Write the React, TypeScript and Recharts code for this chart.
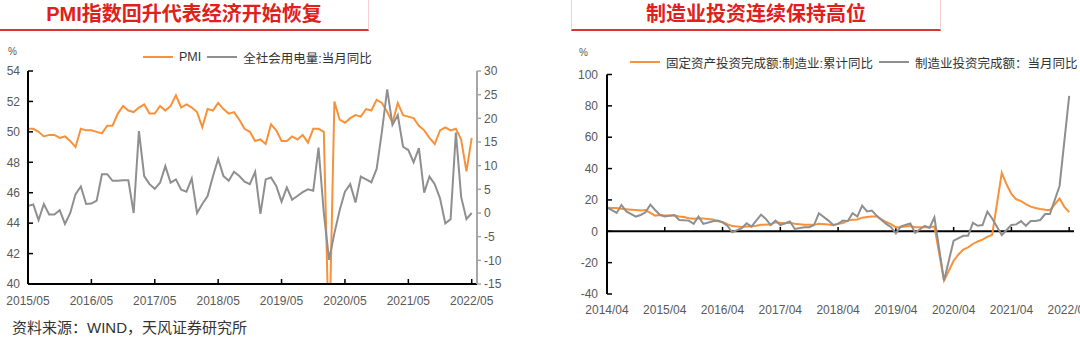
import React from 'react';
import { LineChart, Line, XAxis, YAxis, Legend, ReferenceLine } from 'recharts';

const FONT = '"Liberation Sans", "Noto Sans CJK SC", sans-serif';
const ORANGE = '#F7923A';
const GREY = '#8F8F8F';
const RED = '#E0201B';
const LABEL = '#595959';

// ---- left chart: PMI vs power consumption, monthly 2015/05 .. 2022/05
const leftTickLabels = ['2015/05', '2016/05', '2017/05', '2018/05', '2019/05', '2020/05', '2021/05', '2022/05'];
const pmi = [
  50.2, 50.2, 50.0, 49.7, 49.8, 49.8, 49.6, 49.7,
  49.4, 49.0, 50.2, 50.1, 50.1, 50.0, 49.9, 50.4, 50.4, 51.2, 51.7, 51.4,
  51.3, 51.6, 51.8, 51.2, 51.2, 51.7, 51.4, 51.7, 52.4, 51.6, 51.8, 51.6,
  51.3, 50.3, 51.5, 51.4, 51.9, 51.5, 51.2, 51.3, 50.8, 50.2, 50.0, 49.4,
  49.5, 49.2, 50.5, 50.1, 49.4, 49.4, 49.7, 49.5, 49.8, 49.3, 50.2, 50.2,
  50.0, 35.7, 52.0, 50.8, 50.6, 50.9, 51.1, 51.0, 51.5, 51.4, 52.1, 51.9,
  51.3, 50.6, 51.9, 51.1, 51.0, 50.9, 50.4, 50.1, 49.6, 49.2, 50.1, 50.3,
  50.1, 50.2, 49.5, 47.4, 49.6,
];
const power = [
  1.5, 1.8, -1.5, 1.9, -0.3, -0.3, 0.6, -2.3,
  0, 4.0, 5.6, 1.9, 2.0, 2.6, 8.2, 8.2, 6.8, 6.8, 6.9, 6.9,
  0, 17.3, 7.8, 6.1, 5.1, 6.4, 9.9, 6.4, 7.1, 4.9, 4.5, 7.3,
  0, 1.9, 3.6, 7.7, 11.4, 7.8, 6.8, 8.7, 7.8, 6.6, 6.1, 8.7,
  -0.2, 7.1, 7.5, 5.7, 2.4, 5.4, 2.8, 3.6, 4.4, 5.0, 4.7, 13.8,
  0, -9.9, -4.3, 0.6, 4.5, 6.1, 2.2, 7.7, 7.1, 6.5, 9.3, 17.2,
  26.1, 18.6, 20.7, 14.0, 13.3, 10.7, 13.7, 4.3, 7.7, 6.1, 3.1, -2.2,
  -1.3, 17.0, 3.4, -1.3, 0.0,
];
const leftTicks = leftTickLabels.map((_, k) => k * 12);
const pmiTicks = [40, 42, 44, 46, 48, 50, 52, 54];
const powerTicks = [-15, -10, -5, 0, 5, 10, 15, 20, 25, 30];

// ---- right chart: manufacturing FAI, monthly 2014/04 .. 2022/04 (null = no January print)
const rightTickLabels = ['2014/04', '2015/04', '2016/04', '2017/04', '2018/04', '2019/04', '2020/04', '2021/04', '2022/04'];
const mfgCum = [
  15.0, 14.9, 14.8, 14.3, 14.1, 13.8, 13.5, 13.2, 13.5,
  null, 10.0, 10.4, 10.1, 10.0, 10.1, 9.5, 9.1, 8.3, 8.0, 8.1, 8.1,
  null, 7.5, 6.4, 6.0, 4.6, 3.3, 3.1, 2.8, 3.1, 3.1, 3.6, 4.2,
  null, 4.3, 5.8, 5.4, 5.1, 5.5, 4.8, 4.5, 4.2, 4.1, 4.1, 4.8,
  null, 4.3, 3.8, 4.8, 5.2, 6.8, 7.3, 7.5, 8.7, 9.1, 9.5, 9.5,
  null, 5.9, 4.6, 2.5, 2.7, 3.0, 3.3, 2.6, 2.5, 2.6, 2.5, 3.1,
  null, -31.5, -25.2, -18.8, -14.8, -11.7, -10.2, -8.1, -6.5, -5.3, -3.5, -2.2,
  null, 37.3, 29.8, 23.8, 20.4, 19.2, 17.3, 15.7, 14.8, 14.2, 13.7, 13.5,
  null, 20.9, 15.6, 12.2,
];
const mfgMonth = [
  15.3, null, 11.7, 16.8, 12.7, null, 9.4, 10.4, 12.1,
  17.0, 13.6, 10.4, 9.4, null, 10.4, 7.2, null, 6.8, 4.7, 9.4, 4.7,
  null, 6.4, 6.8, 5.7, 3.6, -0.6, null, 2.0, 5.1, 3.0, null, 10.6,
  7.9, 4.0, 6.8, 4.0, null, 6.2, 1.5, null, 2.6, 2.6, 4.0, 11.5,
  null, 6.8, 4.0, 4.7, 6.8, 6.4, 11.5, 9.4, 16.4, 12.7, 13.2, 10.0,
  7.2, 4.7, 2.6, -1.3, 3.0, 4.0, 5.0, -1.0, null, 3.5, 2.2, 8.9,
  null, -31.5, null, -6.0, null, -2.9, -2.9, 5.4, 3.5, 4.0, 12.5, 8.2,
  null, -2.4, null, 4.0, 4.4, 6.5, 3.5, 6.5, 6.5, 7.2, 11.0, 11.0,
  null, 28.9, null, 86.3,
];
const rightTicks = rightTickLabels.map((_, k) => k * 12);
const fixedTicks = [-40, -20, 0, 20, 40, 60, 80, 100];

const leftData = pmi.map((v, i) => ({ i, pmi: v, power: power[i] }));
const rightData = mfgCum.map((v, i) => ({ i, cum: v, month: mfgMonth[i] }));

const tickStyle = { fill: LABEL, fontSize: 12, fontFamily: FONT };

// keep legend entries in series order (recharts sorts by name otherwise)
const seriesOrder = (item: any) => (item.dataKey === 'pmi' || item.dataKey === 'cum' ? 0 : 1);

const LineLegend = (props: any) => (
  <div style={{ display: 'flex', alignItems: 'center', height: 18, fontFamily: FONT, fontSize: 12.5, color: '#333', whiteSpace: 'nowrap' }}>
    {(props.payload || []).map((p: any, k: number) => (
      <span key={k} style={{ display: 'flex', alignItems: 'center', marginLeft: k ? 6 : 0 }}>
        <span style={{ display: 'inline-block', width: 30, height: 2, background: p.color, marginRight: 6 }} />
        {p.value}
      </span>
    ))}
  </div>
);

const TitleBox = ({ left, text, size }: { left: number; text: string; size: number }) => (
  <div style={{
    position: 'absolute', left, top: 0, width: 368, height: 29,
    borderLeft: '1px solid #F3CFCF', borderRight: '1px solid #F3CFCF', borderBottom: `2.5px solid #D9363A`,
    textAlign: 'center', lineHeight: '29px', fontFamily: FONT, fontWeight: 'bold', fontSize: size, color: RED,
  }}>{text}</div>
);

const PMIChart = () => (
  <LineChart width={540} height={344} data={leftData} margin={{ top: 71, right: 33, bottom: 40, left: 0 }}>
    <XAxis type="number" dataKey="i" domain={[0, 85]} ticks={leftTicks} interval={0} height={20}
      tickFormatter={(v: number) => leftTickLabels[v / 12]}
      axisLine={{ stroke: '#000', strokeWidth: 2 }} tickLine={{ stroke: '#000', strokeWidth: 1.5 }}
      tickSize={-5} tickMargin={17} tick={tickStyle} />
    <YAxis yAxisId="l" domain={[40, 54]} ticks={pmiTicks} allowDataOverflow width={28} interval={0}
      axisLine={{ stroke: '#000', strokeWidth: 2 }} tickLine={{ stroke: '#000', strokeWidth: 1.5 }}
      tickSize={-5} tickMargin={13} tick={tickStyle} />
    <YAxis yAxisId="r" orientation="right" domain={[-15, 30]} ticks={powerTicks} width={30} interval={0}
      axisLine={{ stroke: '#A6A6A6', strokeWidth: 2 }} tickLine={{ stroke: '#A6A6A6', strokeWidth: 1.5 }}
      tickSize={4} tickMargin={3} tick={tickStyle} />
    <Legend verticalAlign="middle" align="center" content={<LineLegend />} itemSorter={seriesOrder}
      wrapperStyle={{ left: 143, top: 48, width: 'auto' }} />
    <Line yAxisId="l" type="linear" dataKey="pmi" name="PMI" stroke={ORANGE} strokeWidth={2} dot={false} isAnimationActive={false} />
    <Line yAxisId="r" type="linear" dataKey="power" name="全社会用电量:当月同比" stroke={GREY} strokeWidth={2} dot={false} isAnimationActive={false} />
  </LineChart>
);

const FAIChart = () => (
  <LineChart width={540} height={344} data={rightData} margin={{ top: 74.5, right: 6, bottom: 30, left: 0 }}>
    <XAxis type="number" dataKey="i" domain={[0, 97]} ticks={rightTicks} interval={0} height={20}
      tickFormatter={(v: number) => rightTickLabels[v / 12]}
      axisLine={false} tickLine={false} tickMargin={5} tick={tickStyle} />
    <YAxis domain={[-40, 100]} ticks={fixedTicks} width={67} interval={0}
      axisLine={{ stroke: '#000', strokeWidth: 2 }} tickLine={{ stroke: '#000', strokeWidth: 1.5 }}
      tickSize={-5} tickMargin={14} tick={tickStyle} />
    <ReferenceLine y={0} stroke="#000" strokeWidth={2} />
    {rightTicks.map((t) => (
      <ReferenceLine key={t} segment={[{ x: t, y: 0 }, { x: t, y: 2.8 }]} stroke="#000" strokeWidth={1.5} />
    ))}
    <Legend verticalAlign="middle" align="center" content={<LineLegend />} itemSorter={seriesOrder}
      wrapperStyle={{ left: 90, top: 53, width: 'auto' }} />
    <Line type="linear" dataKey="cum" name="固定资产投资完成额:制造业:累计同比" stroke={ORANGE} strokeWidth={2} dot={false} connectNulls isAnimationActive={false} />
    <Line type="linear" dataKey="month" name="制造业投资完成额：当月同比" stroke={GREY} strokeWidth={2} dot={false} connectNulls isAnimationActive={false} />
  </LineChart>
);

export default function App() {
  return (
    <div style={{ position: 'absolute', left: 0, top: 0, width: 1080, height: 344, background: '#fff', overflow: 'hidden' }}>
      <TitleBox left={-1} text="PMI指数回升代表经济开始恢复" size={20} />
      <TitleBox left={571} text="制造业投资连续保持高位" size={20} />
      <div style={{ position: 'absolute', left: 0, top: 0 }}><PMIChart /></div>
      <div style={{ position: 'absolute', left: 540, top: 0 }}><FAIChart /></div>
      <div style={{ position: 'absolute', left: 8, top: 46, fontFamily: FONT, fontSize: 10, color: LABEL }}>%</div>
      <div style={{ position: 'absolute', left: 579, top: 47, fontFamily: FONT, fontSize: 10, color: LABEL }}>%</div>
      <div style={{ position: 'absolute', left: 12, top: 318, fontFamily: FONT, fontSize: 15, color: '#333', lineHeight: '20px' }}>
        资料来源：WIND，天风证券研究所
      </div>
    </div>
  );
}
